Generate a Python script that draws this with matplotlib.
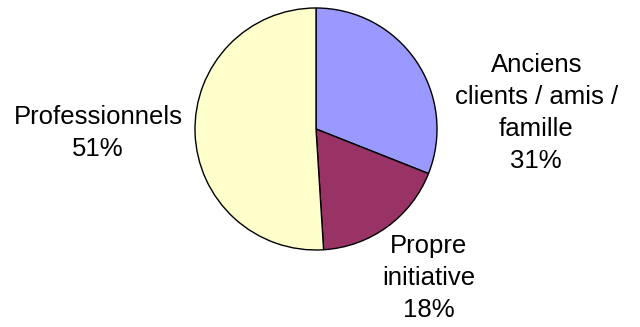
import matplotlib.pyplot as plt

labels = ["Anciens\nclients / amis /\nfamille", "Propre\ninitiative", "Professionnels"]
shares = [31, 18, 51]
colors = ["#9999FF", "#993366", "#FFFFCC"]

# label anchor points in pie-radius units (pie centred at 0,0, radius 1)
label_pos = [(1.82, 0.135), (0.93, -1.235), (-1.8, -0.035)]

plt.rcParams['font.family'] = ['Liberation Sans', 'DejaVu Sans']

fig = plt.figure(figsize=(6.4, 3.27), dpi=100)
ax = fig.add_axes([0, 0, 1, 1])

ax.pie(shares, colors=colors, startangle=90, counterclock=False, radius=1,
       wedgeprops=dict(edgecolor='black', linewidth=1.0))

# pie() resets the limits, so place the pie afterwards
r_px = 121
cx, cy = 316, 129
ax.set_xlim(-cx / r_px, (640 - cx) / r_px)
ax.set_ylim((cy - 327) / r_px, cy / r_px)
ax.set_aspect('equal')
ax.axis('off')

for lab, val, (x, y) in zip(labels, shares, label_pos):
    ax.text(x, y, f"{lab}\n{val}%", ha='center', va='center', fontsize=18.5,
            linespacing=1.42, color='black')

fig.savefig("out.png", dpi=100)
